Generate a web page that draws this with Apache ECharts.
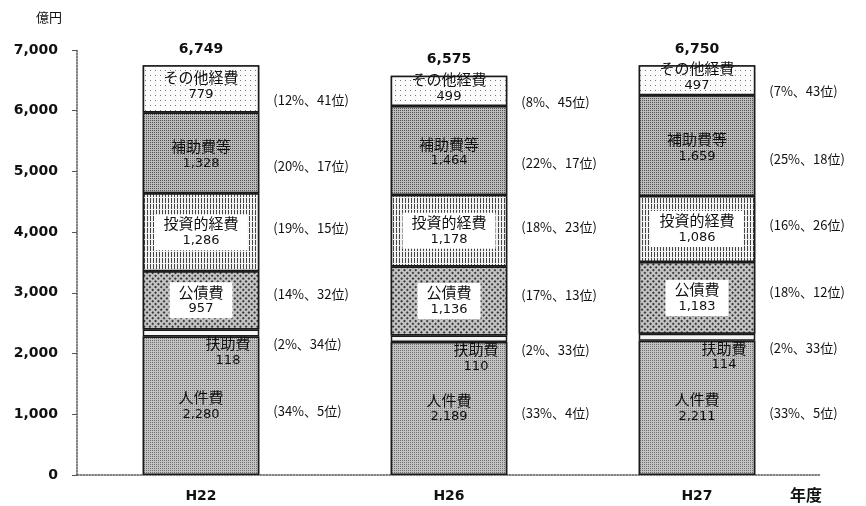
<!DOCTYPE html>
<html><head><meta charset="utf-8">
<script src="https://cdn.jsdelivr.net/npm/echarts@6/dist/echarts.min.js"></script>
<style>html,body{margin:0;padding:0;background:#fff}#c{width:866px;height:506px}</style>
</head><body><div id="c"></div>
<script>
const categories = ['H22', 'H26', 'H27'];
const segmentNames = ['人件費', '扶助費', '公債費', '投資的経費', '補助費等', 'その他経費'];
const jinkenhi = [2280, 2189, 2211];
const fujohi = [118, 110, 114];
const kosaihi = [957, 1136, 1183];
const toshitekiKeihi = [1286, 1178, 1086];
const hojohiTo = [1328, 1464, 1659];
const sonotaKeihi = [779, 499, 497];
const totals = [6749, 6575, 6750];
const jinkenhiShare = [34, 33, 33];
const fujohiShare = [2, 2, 2];
const kosaihiShare = [14, 17, 18];
const toshitekiShare = [19, 18, 16];
const hojohiShare = [20, 22, 25];
const sonotaShare = [12, 8, 7];
const jinkenhiRank = [5, 4, 5];
const fujohiRank = [34, 33, 33];
const kosaihiRank = [32, 13, 12];
const toshitekiRank = [15, 23, 26];
const hojohiRank = [17, 17, 18];
const sonotaRank = [41, 45, 43];
const yTicks = [0, 1000, 2000, 3000, 4000, 5000, 6000, 7000];

const values = [jinkenhi, fujohi, kosaihi, toshitekiKeihi, hojohiTo, sonotaKeihi];
const shares = [jinkenhiShare, fujohiShare, kosaihiShare, toshitekiShare, hojohiShare, sonotaShare];
const ranks = [jinkenhiRank, fujohiRank, kosaihiRank, toshitekiRank, hojohiRank, sonotaRank];

const fmt = v => String(v).replace(/\B(?=(\d{3})+(?!\d))/g, ',');
const FONT = '"Noto Sans CJK JP", "Noto Sans", sans-serif';
const NUMFONT = '"DejaVu Sans", sans-serif';

const decals = [
  {symbol: 'rect', symbolSize: 1, dashArrayX: [1, 1], dashArrayY: [1, 1], color: '#707070', backgroundColor: '#c2c2c2'},
  null,
  {symbol: 'rect', symbolSize: 1, dashArrayX: [2, 2], dashArrayY: [2, 2], rotation: Math.PI / 4, color: '#3a3a3a', backgroundColor: '#c4c4c4'},
  {symbol: 'rect', symbolSize: 1, dashArrayX: [1, 2], dashArrayY: [5, 1], color: '#444', backgroundColor: '#f2f2f2'},
  {symbol: 'rect', symbolSize: 1, dashArrayX: [1, 1], dashArrayY: [1, 1], color: '#505050', backgroundColor: '#bcbcbc'},
  {symbol: 'rect', symbolSize: 1, dashArrayX: [1, 4], dashArrayY: [1, 4], color: '#777', backgroundColor: '#fbfbfb'}
];
const fills = ['#b8b8b8', '#f4f4f4', '#a0a0a0', '#c0c0c0', '#9c9c9c', '#f2f2f2'];
const labelOffsets = [[0, 0], [27, 19], [0, 0], [0, 0], [0, 2], [0, -3]];
const labelBg = [null, null, '#fff', '#fff', null, null];
const annotOffsets = [5, 11, -6, -4, 13, 11];

const series = [];
segmentNames.forEach((name, i) => {
  series.push({
    name: name, type: 'bar', stack: 'a', barWidth: '47%', barGap: '-100%',
    data: values[i],
    itemStyle: {color: fills[i], decal: decals[i] || undefined, borderColor: '#1a1a1a', borderWidth: 1.5},
    label: {
      show: true, position: 'inside', offset: labelOffsets[i],
      formatter: p => '{n|' + name + '}\n{v|' + fmt(p.value) + '}',
      rich: {
        n: {fontFamily: FONT, fontSize: 15, lineHeight: 17, color: '#111'},
        v: {fontFamily: NUMFONT, fontSize: 13, lineHeight: 17, color: '#111'}
      },
      backgroundColor: labelBg[i] || 'transparent', padding: labelBg[i] ? [1, 9] : 0
    },
    emphasis: {disabled: true}, silent: true
  });
});
segmentNames.forEach((name, i) => {
  series.push({
    name: name + '_annot', type: 'bar', stack: 'b', barWidth: '47%', barGap: '-100%',
    data: values[i],
    itemStyle: {color: 'rgba(0,0,0,0)', borderWidth: 0},
    label: {
      show: true, position: 'right', distance: 14, offset: [0, annotOffsets[i]],
      formatter: p => '(' + shares[i][p.dataIndex] + '%、' + ranks[i][p.dataIndex] + '位)',
      fontFamily: FONT, fontSize: 13, color: '#111'
    },
    emphasis: {disabled: true}, silent: true
  });
});
series.push({
  name: 'total', type: 'bar', barWidth: '47%', barGap: '-100%',
  data: totals, z: 0,
  itemStyle: {color: 'rgba(0,0,0,0)', borderWidth: 0},
  label: {show: true, position: 'top', distance: 9, formatter: p => fmt(p.value),
    fontFamily: NUMFONT, fontSize: 14, fontWeight: 'bold', color: '#111'},
  emphasis: {disabled: true}, silent: true
});

const chart = echarts.init(document.getElementById('c'), null, {renderer: 'canvas'});
chart.setOption({
  animation: false,
  backgroundColor: '#fff',
  grid: {left: 77, right: 45, top: 50, bottom: 31, containLabel: false},
  xAxis: {
    type: 'category', data: categories,
    axisLine: {show: true, lineStyle: {color: '#555', width: 1.5, type: 'dotted'}},
    axisTick: {show: false},
    axisLabel: {margin: 14, fontFamily: NUMFONT, fontSize: 14, fontWeight: 'bold', color: '#111'}
  },
  yAxis: {
    type: 'value', min: yTicks[0], max: yTicks[yTicks.length - 1], interval: 1000,
    name: '億円', nameLocation: 'end', nameGap: 26,
    nameTextStyle: {fontFamily: FONT, fontSize: 13, color: '#111', align: 'right', padding: [0, 15, 0, 0]},
    axisLine: {show: true, lineStyle: {color: '#555', width: 1.5, type: 'dotted'}},
    axisTick: {show: true, length: 5, lineStyle: {color: '#555'}},
    splitLine: {show: false},
    axisLabel: {margin: 19, formatter: v => fmt(v), fontFamily: NUMFONT, fontSize: 14, fontWeight: 'bold', color: '#111'}
  },
  graphic: [{type: 'text', left: 790, top: 487, style: {text: '年度', fontFamily: FONT, fontSize: 16, fontWeight: 'bold', fill: '#111'}}],
  series: series
});
</script>
</body></html>
